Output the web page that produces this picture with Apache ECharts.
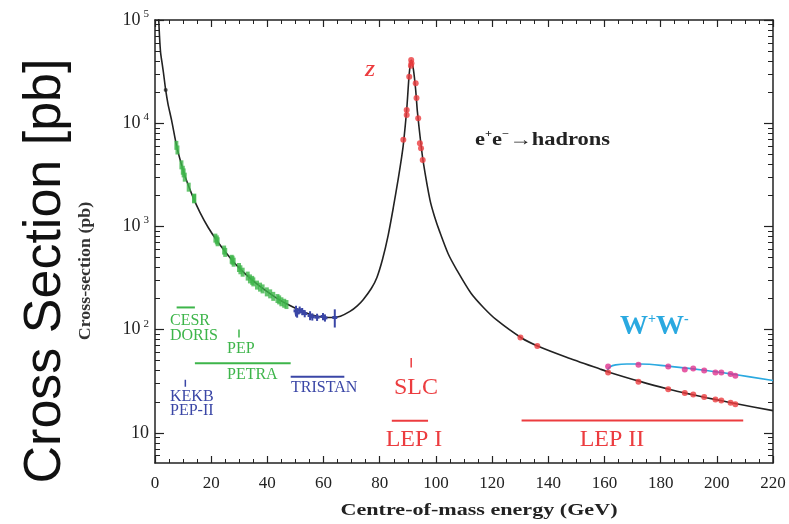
<!DOCTYPE html>
<html>
<head>
<meta charset="utf-8">
<script src="https://cdn.jsdelivr.net/npm/echarts@6/dist/echarts.min.js"></script>
<style>html,body{margin:0;padding:0;background:#fff}#c{width:789px;height:524px}</style>
</head>
<body>
<div id="c"></div>
<script>
// ---- data ----
const curveE = [1.2, 1.6, 2.0, 2.6, 3.0, 3.8, 4.6, 5.9, 7.7, 9.5, 10.7, 13.6, 16, 19, 22, 25.5, 27.9, 30.2, 33.8, 37.4, 42.1, 44.5, 47, 50.4, 53, 56.3, 60, 63, 66, 69.4, 72, 74.1, 77, 79, 81, 83, 84.8, 86.6, 87.8, 88.4, 89.6, 90.5, 91.2, 92.0, 92.8, 93.4, 94.6, 95.5, 97.9, 99.5, 101.4, 104.4, 107.4, 112.5, 117, 121.6, 130.5, 136.4, 146.5, 158.4, 161.9, 172.6, 183.3, 189.2, 196.3, 202.2, 207, 220];
const curveSigma = [120000, 70000, 48000, 37000, 31000, 21000, 15500, 10700, 6000, 3900, 3050, 1900, 1370, 970, 730, 545, 455, 390, 315, 262, 212, 193, 177, 159, 148, 138, 132, 131, 135, 150, 170, 195, 250, 320, 480, 820, 1500, 2900, 4700, 6200, 13500, 30000, 41000, 33000, 21000, 13000, 6500, 4200, 1800, 1250, 880, 540, 380, 225, 163, 124, 83, 69, 54, 41.5, 38.5, 31.5, 26.3, 24.1, 21.9, 20.3, 19.1, 16.4];

const greenE = [7.6, 8.0, 9.4, 9.9, 10.2, 10.6, 12.0, 13.9, 14.0, 21.5, 22.0, 22.3, 24.6, 25.0, 27.3, 27.6, 28.0, 29.9, 30.4, 31.2, 33.0, 33.8, 34.6, 35.0, 36.3, 37.4, 38.3, 39.8, 41.0, 42.1, 43.6, 44.2, 45.0, 46.0, 46.8];
const greenSigma = [6100, 5500, 3950, 3500, 3300, 3000, 2400, 1850, 1880, 770, 740, 710, 590, 560, 480, 470, 450, 400, 380, 360, 330, 310, 300, 290, 270, 258, 248, 232, 222, 210, 200, 194, 186, 180, 175];

const tristanE = [50.2, 50.6, 51.5, 52.4, 53.3, 55.2, 56.0, 57.7, 59.8, 60.5, 64.0];
const tristanSigma = [152, 145, 155, 150, 143, 137, 133, 132, 134, 130, 131];
const tristanErr = [0.12, 0.1, 0.08, 0.08, 0.08, 0.1, 0.08, 0.08, 0.08, 0.08, 0.2];

const zE = [91.2, 91.3, 91.1, 90.5, 92.8, 93.1, 89.6, 89.6, 93.7, 88.4, 94.3, 94.7, 95.3];
const zSigma = [41000, 38000, 36000, 28200, 24400, 17500, 13400, 12000, 11200, 6900, 6400, 5710, 4400];

const lep2E = [130.1, 136.1, 161.3, 172.1, 182.7, 188.6, 191.6, 195.5, 199.5, 201.6, 204.9, 206.6];
const lep2Sigma = [84, 69.5, 38.5, 31.2, 26.5, 24.3, 23.5, 22.2, 21.0, 20.6, 19.6, 18.9];

const wwCurveE = [161.0, 162.0, 164.0, 168.0, 172.6, 183.3, 196.3, 207.0, 220.0];
const wwCurveSigma = [40.0, 43.5, 45.5, 46.5, 46.5, 44.0, 40.2, 36.5, 32.1];
const wwE = [161.3, 172.1, 182.7, 188.6, 191.6, 195.5, 199.5, 201.6, 204.9, 206.6];
const wwSigma = [43.9, 45.6, 43.9, 41.0, 42.0, 40.2, 38.4, 38.4, 37.2, 35.7];

// collider energy ranges [E start, E end] and level
const cesrRange = [7.7, 14.2], cesrLevel = 164;
const petraRange = [14.2, 48.3], petraLevel = 47.3;
const tristanRange = [48.3, 67.4], tristanLevel = 35;
const lep1Range = [84.3, 97.2], lep1Level = 13.1;
const lep2Range = [130.5, 209.4], lep2Level = 13.2;
// single-energy ticks [E, sigma low, sigma high]
const pepTick = [29.9, 84, 100];
const kekbTick = [10.8, 28, 32.6];
const slcTick = [91.2, 43, 53];

const xTicks = [0, 20, 40, 60, 80, 100, 120, 140, 160, 180, 200, 220];
const yDecades = [10, 100, 1000, 10000, 100000];

// ---- build ----
const zip = (a, b) => a.map((v, i) => [v, b[i]]);
const minorY = [];
[1, 10, 100, 1000, 10000].forEach(d => { for (let k = 2; k <= 9; k++) minorY.push(k * d); });
minorY.push(6, 7, 8, 9);

const RED = '#ec3c3f', GREEN = '#3db54a', BLUE = '#3a46a6', CYAN = '#2aa9e0', MAG = '#e0338f';
const SERIF = '"Liberation Serif", "DejaVu Serif", serif';

const chart = echarts.init(document.getElementById('c'));

function hbar(range, level, color, width) {
  return { type: 'line', data: [[range[0], level], [range[1], level]], symbol: 'none',
    lineStyle: { color: color, width: width || 2 }, silent: true, z: 3 };
}
function vtick(t, color) {
  return { type: 'line', data: [[t[0], t[1]], [t[0], t[2]]], symbol: 'none',
    lineStyle: { color: color, width: 1.5 }, silent: true, z: 3 };
}

const axisCommon = {
  min: 0, max: 220, interval: 20, type: 'value',
  axisLine: { show: true, onZero: false, lineStyle: { color: '#222', width: 1.5 } },
  axisTick: { show: true, inside: true, length: 7, lineStyle: { color: '#222', width: 1.2 } },
  minorTick: { show: true, splitNumber: 4, length: 4, lineStyle: { color: '#222', width: 1 } },
  splitLine: { show: false }, minorSplitLine: { show: false }
};
const yCommon = {
  type: 'log', logBase: 10, min: 5.1, max: 100000,
  splitLine: { show: false }, minorSplitLine: { show: false }
};

const lbl = (x, y, text, color, size, extra) => ({ type: 'text', x: x, y: y,
  style: Object.assign({ text: text, fill: color, font: size + 'px "Liberation Serif", serif', verticalAlign: 'middle' }, extra || {}) });

const option = {
  animation: false,
  backgroundColor: '#fff',
  grid: { left: 155, right: 16, top: 20, bottom: 61, containLabel: false },
  xAxis: [
    Object.assign({}, axisCommon, {
      position: 'bottom',
      axisLabel: { show: true, customValues: xTicks, color: '#222', fontFamily: SERIF, fontSize: 17, margin: 12 }
    }),
    Object.assign({}, axisCommon, { position: 'top', axisLabel: { show: false } })
  ],
  yAxis: [
    Object.assign({}, yCommon, {
      position: 'left',
      axisLine: { show: true, lineStyle: { color: '#222', width: 1.5 } },
      axisTick: { show: true, inside: true, length: 9, customValues: yDecades, lineStyle: { color: '#222', width: 1.2 } },
      axisLabel: {
        show: true, customValues: yDecades, margin: 6, color: '#222', fontFamily: SERIF,
        formatter: function (v) {
          const e = Math.round(Math.log10(v));
          return e === 1 ? '{b|10}' : '{b|10} {s|' + e + '}';
        },
        rich: {
          b: { fontFamily: SERIF, fontSize: 18, color: '#222' },
          s: { fontFamily: SERIF, fontSize: 11, color: '#222', padding: [0, 0, 12, 0] }
        }
      }
    }),
    Object.assign({}, yCommon, {
      position: 'left', axisLine: { show: false },
      axisTick: { show: true, inside: true, length: 5, customValues: minorY, lineStyle: { color: '#222', width: 1 } },
      axisLabel: { show: false }
    }),
    Object.assign({}, yCommon, {
      position: 'right',
      axisLine: { show: true, lineStyle: { color: '#222', width: 1.5 } },
      axisTick: { show: true, inside: true, length: 9, customValues: yDecades, lineStyle: { color: '#222', width: 1.2 } },
      axisLabel: { show: false }
    }),
    Object.assign({}, yCommon, {
      position: 'right', axisLine: { show: false },
      axisTick: { show: true, inside: true, length: 5, customValues: minorY, lineStyle: { color: '#222', width: 1 } },
      axisLabel: { show: false }
    })
  ],
  series: [
    { type: 'line', data: zip(curveE, curveSigma), symbol: 'none', smooth: 0.25,
      lineStyle: { color: '#222', width: 1.6 }, z: 4, clip: true },
    { type: 'line', data: zip(wwCurveE, wwCurveSigma), symbol: 'none', smooth: 0.4,
      lineStyle: { color: CYAN, width: 1.6 }, z: 4 },
    { type: 'scatter', data: zip(greenE, greenSigma), symbol: 'rect', symbolSize: [4, 9],
      itemStyle: { color: GREEN }, z: 5 },
    { type: 'custom', data: tristanE.map((e, i) => [e, tristanSigma[i], tristanErr[i]]), z: 5,
      renderItem: function (params, api) {
        const x = api.value(0), s = api.value(1), er = api.value(2);
        const p = api.coord([x, s]);
        const lo = api.coord([x, s * (1 - er)]);
        const hi = api.coord([x, s * (1 + er)]);
        return { type: 'group', children: [
          { type: 'line', shape: { x1: p[0], y1: lo[1], x2: p[0], y2: hi[1] }, style: { stroke: BLUE, lineWidth: 2 } },
          { type: 'rect', shape: { x: p[0] - 2.5, y: p[1] - 1.5, width: 5, height: 3 }, style: { fill: BLUE } }
        ] };
      } },
    { type: 'scatter', data: zip(zE, zSigma), symbol: 'circle', symbolSize: 6, itemStyle: { color: RED }, z: 6 },
    { type: 'scatter', data: zip(lep2E, lep2Sigma), symbol: 'circle', symbolSize: 6, itemStyle: { color: RED }, z: 6 },
    { type: 'scatter', data: zip(wwE, wwSigma), symbol: 'circle', symbolSize: 6, itemStyle: { color: MAG }, z: 6 },
    { type: 'scatter', data: [[3.8, 21000]], symbol: 'circle', symbolSize: 4, itemStyle: { color: '#222' }, z: 6 },
    hbar(cesrRange, cesrLevel, GREEN, 2),
    hbar(petraRange, petraLevel, GREEN, 2),
    hbar(tristanRange, tristanLevel, BLUE, 2),
    hbar(lep1Range, lep1Level, RED, 2),
    hbar(lep2Range, lep2Level, RED, 2),
    vtick(pepTick, GREEN),
    vtick(kekbTick, BLUE),
    vtick(slcTick, RED)
  ],
  graphic: [
    { type: 'text', x: 46, y: 271, rotation: Math.PI / 2, style: { text: 'Cross Section [pb]', fill: '#111',
      font: '52px "Liberation Sans", Arial, sans-serif', align: 'center', verticalAlign: 'middle' } },
    { type: 'text', x: 86, y: 271, rotation: Math.PI / 2, scaleX: 1.12, style: { text: 'Cross-section (pb)', fill: '#333',
      font: 'bold 16px "Liberation Serif", serif', align: 'center', verticalAlign: 'middle' } },
    { type: 'text', x: 479, y: 511, scaleX: 1.3, style: { text: 'Centre-of-mass energy (GeV)', fill: '#222',
      font: 'bold 17px "Liberation Serif", serif', align: 'center', verticalAlign: 'middle' } },
    lbl(170, 321, 'CESR', GREEN, 16),
    lbl(170, 336, 'DORIS', GREEN, 16),
    lbl(227, 349, 'PEP', GREEN, 16),
    lbl(227, 375, 'PETRA', GREEN, 16),
    lbl(291, 388, 'TRISTAN', BLUE, 16),
    lbl(170, 397, 'KEKB', BLUE, 16),
    lbl(170, 411, 'PEP-II', BLUE, 16),
    lbl(416, 388, 'SLC', RED, 24, { align: 'center' }),
    lbl(414, 440, 'LEP I', RED, 24, { align: 'center' }),
    lbl(612, 440, 'LEP II', RED, 24, { align: 'center' }),
    { type: 'text', x: 370, y: 72, style: { text: 'Z', fill: RED, font: 'italic bold 17px "Liberation Serif", serif', align: 'center', verticalAlign: 'middle' } },
    { type: 'text', x: 475, y: 140, scaleX: 1.25, style: { text: '{t|e}{s|+}{t|e}{s|−}{t|→hadrons}', verticalAlign: 'middle',
      rich: { t: { font: 'bold 18px "Liberation Serif", serif', fill: '#222' },
              s: { font: 'bold 10px "Liberation Serif", serif', fill: '#222', padding: [0, 0, 12, 0] } } } },
    { type: 'text', x: 620, y: 327, style: { text: '{t|W}{s|+}{t|W}{s|-}', verticalAlign: 'middle',
      rich: { t: { font: 'bold 28px "Liberation Serif", serif', fill: CYAN },
              s: { font: 'bold 14px "Liberation Serif", serif', fill: CYAN, padding: [0, 0, 16, 0] } } } }
  ]
};
chart.setOption(option);
</script>
</body>
</html>
